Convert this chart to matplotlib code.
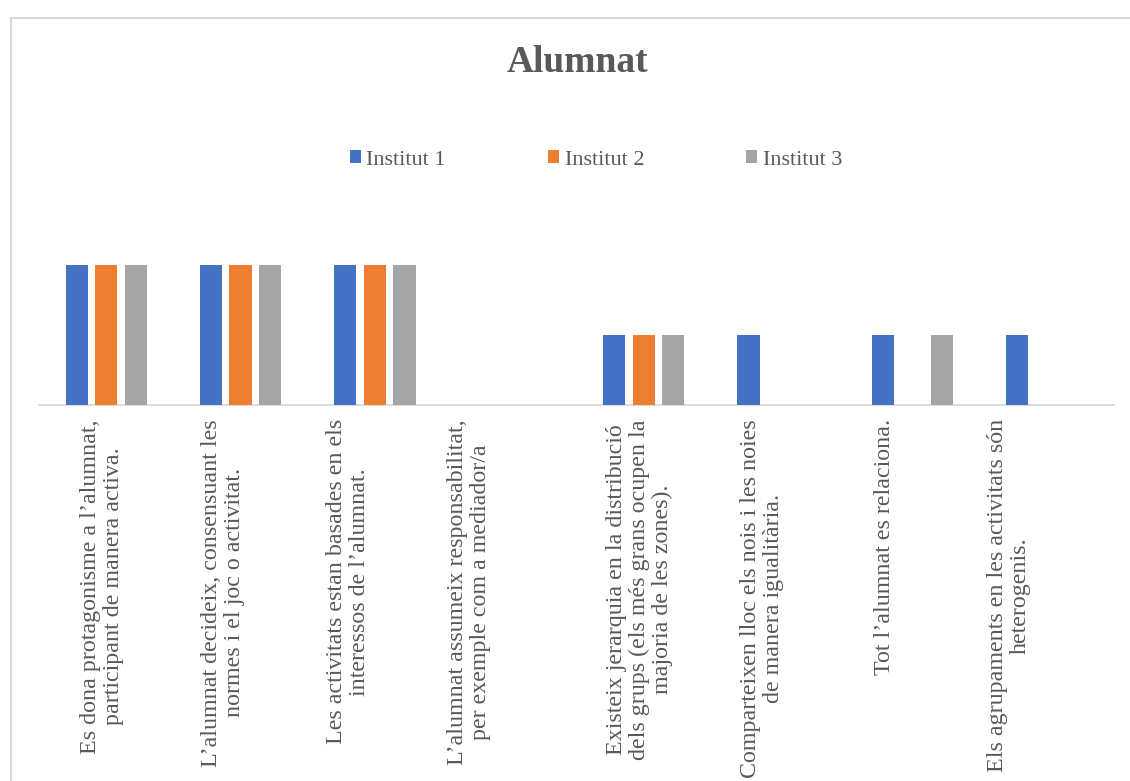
import numpy as np
import matplotlib
matplotlib.use("Agg")
import matplotlib.pyplot as plt
from matplotlib.patches import Rectangle
from matplotlib.transforms import blended_transform_factory, ScaledTranslation

# ---- data ----
categories = [
    "Es dona protagonisme a l’alumnat,\nparticipant de manera activa.",
    "L’alumnat decideix, consensuant les\nnormes i el joc o activitat.",
    "Les activitats estan basades en els\ninteressos de l’alumnat.",
    "L’alumnat assumeix responsabilitat,\nper exemple com a mediador/a",
    "Existeix jerarquia en la distribució\ndels grups (els més grans ocupen la\nmajoria de les zones).",
    "Comparteixen lloc els nois i les noies\nde manera igualitària.",
    "Tot l’alumnat es relaciona.",
    "Els agrupaments en les activitats són\nheterogenis.",
]
series_names = ["Institut 1", "Institut 2", "Institut 3"]
institut1 = [2, 2, 2, 0, 1, 1, 1, 1]
institut2 = [2, 2, 2, 0, 1, 0, 0, 0]
institut3 = [2, 2, 2, 0, 1, 0, 1, 0]
title = "Alumnat"

# ---- layout / style ----
colors = ["#4472C4", "#ED7D31", "#A5A5A5"]
text_color = "#595959"
grid_color = "#D9D9D9"
label_shift_px = [-4, -18, -27, -40, -4, -16, -28, -38]

plt.rcParams['font.family'] = ['Liberation Serif', 'DejaVu Serif']

W, H, DPI = 1130, 781, 100
fig = plt.figure(figsize=(W / DPI, H / DPI), dpi=DPI)

left_px, right_px, base_px, top_px = 39, 1114, 405, 230
ax = fig.add_axes([left_px / W, (H - base_px) / H,
                   (right_px - left_px) / W, (base_px - top_px) / H])

x = np.arange(len(categories))
offsets = [-0.22, 0.0, 0.22]
bw = 0.165
handles = []
for vals, off, col, name in zip([institut1, institut2, institut3], offsets, colors, series_names):
    b = ax.bar(x + off, vals, width=bw, color=col, label=name, zorder=3)
    handles.append(b)

ax.set_xlim(-0.5, len(categories) - 0.5)
ax.set_ylim(0, 2.5)
for s in ["top", "right", "left"]:
    ax.spines[s].set_visible(False)
ax.spines["bottom"].set_color(grid_color)
ax.spines["bottom"].set_linewidth(1.3)
ax.set_xticks([])
ax.set_yticks([])
ax.patch.set_alpha(0)

base_tr = blended_transform_factory(ax.transData, ax.transAxes)
for xi, lab, dx in zip(x, categories, label_shift_px):
    tr = base_tr + ScaledTranslation(dx / DPI, -14 / DPI, fig.dpi_scale_trans)
    ax.text(xi, 0, lab, transform=tr, rotation=90, ha="center", va="top",
            multialignment="center", fontsize=17.3, color=text_color,
            linespacing=1.13, clip_on=False)

fig.text(577 / W, 1 - 72 / H, title, ha="center", va="baseline",
         fontsize=27, fontweight="bold", color=text_color)

fig.legend(handles=handles, labels=series_names, loc="center",
           bbox_to_anchor=(596 / W, 1 - 160 / H), ncol=3, frameon=False,
           fontsize=16, labelcolor=text_color, handlelength=0.5,
           handleheight=0.5, handletextpad=0.25, columnspacing=4.6)

border = Rectangle((10.5 / W, -0.1), 1.5, (H - 18) / H + 0.1,
                   transform=fig.transFigure, fill=False,
                   edgecolor=grid_color, linewidth=1.5)
fig.patches.append(border)

fig.savefig("out.png", dpi=DPI, facecolor="white")
